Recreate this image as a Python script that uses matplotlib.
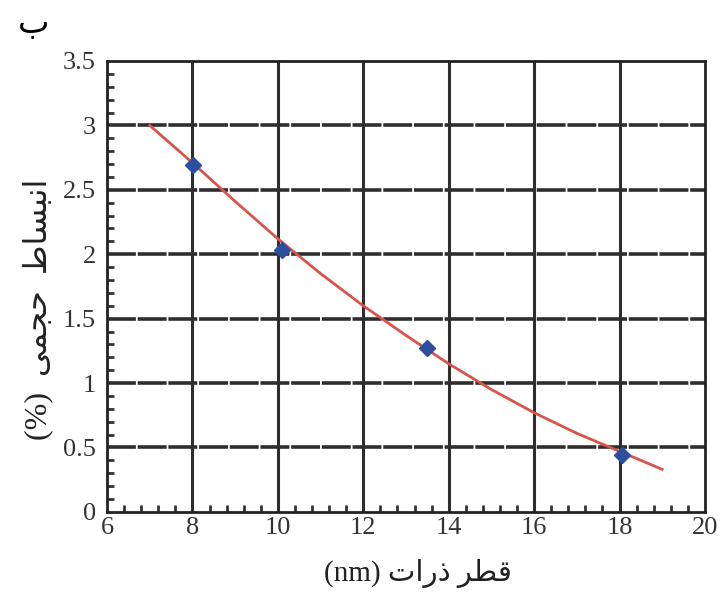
import matplotlib
matplotlib.use("Agg")
import matplotlib.pyplot as plt
from matplotlib.ticker import MultipleLocator

# data
diam = [8.02, 10.1, 13.5, 18.07]
expansion = [2.69, 2.03, 1.27, 0.44]

# fitted curve, sampled by eye
curve_x = [7.0, 8.0, 9.0, 10.0, 11.0, 12.0, 13.0, 14.0, 15.0, 16.0, 17.0, 18.0, 19.0]
curve_y = [3.0, 2.71, 2.41, 2.12, 1.85, 1.6, 1.37, 1.15, 0.95, 0.77, 0.61, 0.47, 0.33]

xticks = [6, 8, 10, 12, 14, 16, 18, 20]
yticks = [0, 0.5, 1, 1.5, 2, 2.5, 3, 3.5]
ytick_labels = ["0", "0.5", "1", "1.5", "2", "2.5", "3", "3.5"]

# Persian labels, shaped by hand in visual (left to right) order
xlabel = "(nm) " + "\uFE95\uFE8D\uFEAD\uFEAB" + " " + "\uFEAE\uFEC4\uFED7"
ylabel = "(%)  " + "\uFEF0\uFEE4\uFEA0\uFEA3" + "  " + "\uFEC1\uFE8E\uFEB4\uFE92\uFEE7\uFE8D"
panel = "\uFE8F"

fams = ["Liberation Serif", "DejaVu Sans"]
plt.rcParams["font.family"] = fams

fig = plt.figure(figsize=(7.23, 5.98), dpi=100)
ax = fig.add_axes([0.148, 0.144, 0.827, 0.754])

ax.set_xlim(6, 20)
ax.set_ylim(0, 3.5)
ax.set_xticks(xticks)
ax.set_yticks(yticks)
ax.set_yticklabels(ytick_labels)
ax.xaxis.set_minor_locator(MultipleLocator(0.4))
ax.yaxis.set_minor_locator(MultipleLocator(0.1))

grid_c = "#2e2e2e"
for y in yticks[1:-1]:
    ax.axhline(y, color=grid_c, lw=2.6, dashes=(8, 0.5), zorder=1)
for x in xticks[1:-1]:
    ax.axvline(x, color=grid_c, lw=2.2, zorder=1)

ax.plot(curve_x, curve_y, color="#d9534a", lw=2.0, zorder=3)
ax.plot(diam, expansion, linestyle="none", marker="D", ms=8.5,
        color="#2b4f9e", zorder=4)

for s in ax.spines.values():
    s.set_linewidth(2.0)
    s.set_color("#222222")

ax.tick_params(which="major", direction="in", length=0, labelsize=19,
               pad=4, colors="#333333")
ax.tick_params(which="minor", direction="in", length=5, width=2,
               color="#333333")
ax.tick_params(axis="y", pad=8)

ax.set_xlabel(xlabel, fontsize=21, color="#222222")
ax.xaxis.set_label_coords(0.52, -0.105)
ax.set_ylabel(ylabel, fontsize=23, color="#222222")
ax.yaxis.set_label_coords(-0.09, 0.45)
fig.text(0.046, 0.962, panel, fontsize=24, ha="center", va="center",
         family="DejaVu Sans")

fig.savefig("out.png", dpi=100, facecolor="white")
